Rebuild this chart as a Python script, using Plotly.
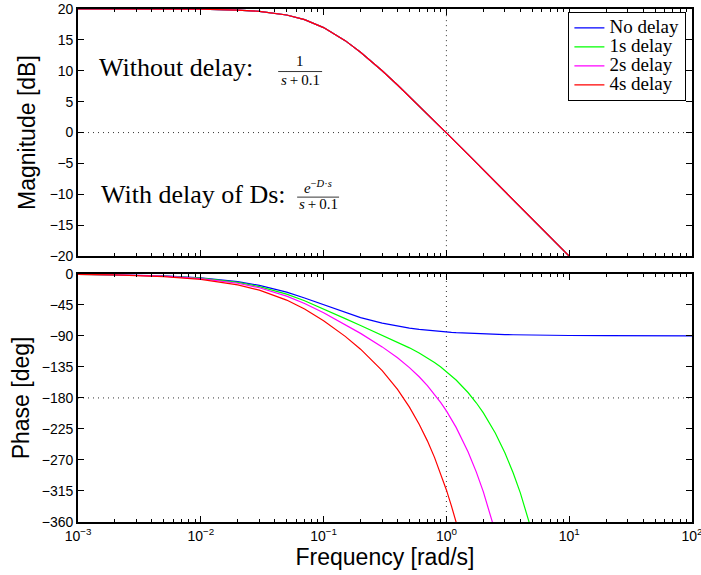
import plotly.graph_objects as go
from plotly.subplots import make_subplots

# ---------------- data ----------------
mag_freq = [0.001, 0.002, 0.005, 0.01, 0.02, 0.03, 0.05, 0.07, 0.1, 0.15, 0.2, 0.3,
            0.4, 0.5, 0.7, 1, 1.5, 2, 3, 4, 5, 7, 10]
mag_db = [20.00, 20.00, 19.99, 19.96, 19.83, 19.63, 19.03, 18.27, 16.99, 14.88, 13.01, 10.00,
          7.70, 5.85, 3.01, -0.04, -3.54, -6.03, -9.55, -12.04, -13.98, -16.90, -20.00]

phase_freq = [0.001, 0.002, 0.005, 0.01, 0.02, 0.03, 0.05, 0.07, 0.1, 0.15, 0.2, 0.3,
              0.4, 0.5, 0.6, 0.7, 0.8, 0.9, 1, 1.1, 1.2, 1.5, 1.75, 2, 2.25, 2.5, 3,
              3.5, 4, 4.5, 5, 7, 10, 20, 50, 100]
phase_nodelay = [-0.57, -1.15, -2.86, -5.71, -11.31, -16.70, -26.57, -34.99, -45.00, -56.31,
                 -63.43, -71.57, -75.96, -78.69, -80.54, -81.87, -82.87, -83.66, -84.29, -84.81,
                 -85.24, -86.19, -86.73, -87.14, -87.46, -87.71, -88.09, -88.36, -88.57, -88.73,
                 -88.85, -89.18, -89.43, -89.71, -89.89, -89.94]
phase_1s = [-0.63, -1.26, -3.15, -6.28, -12.46, -18.42, -29.43, -39.00, -50.73, -64.90,
            -74.89, -88.76, -98.88, -107.34, -114.92, -121.98, -128.71, -135.23, -141.59, -147.84,
            -153.99, -172.13, -187.00, -201.73, -216.38, -230.95, -259.98, -288.90, -317.75, -346.56,
            -375.33, None, None, None, None, None]
phase_2s = [-0.69, -1.38, -3.43, -6.86, -13.60, -20.14, -32.30, -43.01, -56.46, -73.50,
            -86.35, -105.95, -121.80, -135.99, -149.30, -162.09, -174.55, -186.80, -198.88, -210.87,
            -222.74, -258.07, -287.27, -316.32, -345.30, -374.19, None, None, None, None,
            None, None, None, None, None, None]
phase_4s = [-0.80, -1.61, -4.00, -8.00, -15.89, -23.58, -38.03, -51.03, -67.92, -90.67,
            -109.27, -140.33, -167.64, -193.29, -218.06, -242.31, -266.22, -289.95, -313.48, -336.94,
            -360.26, None, None, None, None, None, None, None, None, None,
            None, None, None, None, None, None]

series_names = ["No delay", "1s delay", "2s delay", "4s delay"]
series_colors = ["#0000ff", "#00ff00", "#ff00ff", "#ff0000"]
phase_series = [phase_nodelay, phase_1s, phase_2s, phase_4s]

x_tickvals = [0.001, 0.01, 0.1, 1, 10, 100]
x_ticktext = ["10<sup>−3</sup>", "10<sup>−2</sup>", "10<sup>−1</sup>", "10<sup>0</sup>",
              "10<sup>1</sup>", "10<sup>2</sup>"]
mag_ticks = [-20, -15, -10, -5, 0, 5, 10, 15, 20]
phase_ticks = [0, -45, -90, -135, -180, -225, -270, -315, -360]

# ---------------- figure ----------------
W, H = 701, 575
ML, MR, MT, MB = 77.5, 8.5, 9, 53.3
PW, PH = W - ML - MR, H - MT - MB

def px_x(xp):
    return (xp - ML) / PW

def px_y(yp):
    return (H - MB - yp) / PH

SANS = "Liberation Sans, Arial"
SERIF = "Liberation Serif, Times New Roman"

fig = make_subplots(rows=2, cols=1, shared_xaxes=True)

for name, color in zip(series_names, series_colors):
    fig.add_trace(go.Scatter(x=mag_freq, y=mag_db, mode="lines",
                             name='<span style="font-size:19px">%s</span>' % name,
                             line=dict(color=color, width=1.2)), row=1, col=1)
for name, color, ph in zip(series_names, series_colors, phase_series):
    fig.add_trace(go.Scatter(x=phase_freq, y=ph, mode="lines", name=name, showlegend=False,
                             line=dict(color=color, width=1.2)), row=2, col=1)

minor_vals = [m * 10 ** e for e in range(-3, 2) for m in range(2, 10)]
axis_common = dict(showline=True, linecolor="black", linewidth=1.6, mirror="ticks",
                   ticks="inside", ticklen=6, tickwidth=1, tickcolor="black",
                   showgrid=False, zeroline=False, automargin=False,
                   tickfont=dict(family=SANS, size=14, color="black"))
title_font = dict(family=SANS, size=23, color="black")

fig.update_xaxes(type="log", range=[-3, 2], tickvals=x_tickvals, ticktext=x_ticktext,
                 ticklabeloverflow="allow",
                 minor=dict(tickvals=minor_vals, ticks="inside", ticklen=3, tickcolor="black",
                            showgrid=False),
                 **axis_common)
fig.update_xaxes(showticklabels=False, row=1, col=1)
fig.update_xaxes(title=dict(text="Frequency [rad/s]", standoff=2, font=title_font),
                 row=2, col=1)
fig.update_yaxes(range=[-20, 20], tickvals=mag_ticks,
                 ticktext=[str(v).replace("-", "−") for v in mag_ticks],
                 ticklabeloverflow="allow",
                 title=dict(text="Magnitude [dB]", standoff=8, font=title_font),
                 row=1, col=1, **axis_common)
fig.update_yaxes(range=[-360, 0], tickvals=phase_ticks,
                 ticktext=[str(v).replace("-", "−") for v in phase_ticks],
                 ticklabeloverflow="allow",
                 title=dict(text="Phase [deg]", standoff=6, font=title_font),
                 row=2, col=1, **axis_common)

fig.update_layout(
    width=W, height=H,
    margin=dict(l=ML, r=MR, t=MT, b=MB, autoexpand=False),
    paper_bgcolor="white", plot_bgcolor="white",
    yaxis=dict(domain=[px_y(256), 1.0]),
    yaxis2=dict(domain=[0.0, px_y(273.7)]),
    legend=dict(x=px_x(686.5), y=px_y(12), xanchor="right", yanchor="top",
                bgcolor="white", bordercolor="black", borderwidth=1.4,
                font=dict(family=SERIF, size=12, color="black"),
                tracegroupgap=0, itemwidth=30),
    showlegend=True,
)

# dotted reference lines
dot = dict(color="#333333", width=1, dash="1px,4px")
fig.add_shape(type="line", xref="x", yref="y domain", x0=1, x1=1, y0=0, y1=1, line=dot, layer="below")
fig.add_shape(type="line", xref="x2", yref="y2 domain", x0=1, x1=1, y0=0, y1=1, line=dot, layer="below")
fig.add_shape(type="line", xref="x domain", yref="y", x0=0, x1=1, y0=0, y1=0, line=dot, layer="below")
fig.add_shape(type="line", xref="x2 domain", yref="y2", x0=0, x1=1, y0=-180, y1=-180, line=dot, layer="below")

# text annotations (serif, LaTeX-like)
def ann(text, xp, yp, size, xanchor="center"):
    fig.add_annotation(text=text, xref="paper", yref="paper", x=px_x(xp), y=px_y(yp),
                       xanchor=xanchor, yanchor="middle", showarrow=False,
                       font=dict(family=SERIF, size=size, color="black"))

THIN = "\u2009"
ann("Without delay:", 97, 67, 26, xanchor="left")
ann("1", 300, 61, 15)
ann("<i>s</i>" + THIN + "+" + THIN + "0.1", 300, 80, 15)
fig.add_shape(type="line", xref="paper", yref="paper", x0=px_x(278), x1=px_x(322),
              y0=px_y(71.5), y1=px_y(71.5), line=dict(color="black", width=0.8))

ann("With delay of Ds:", 99, 194, 26, xanchor="left")
ann("<i>e</i><sup>−<i>D</i>·<i>s</i></sup>", 318, 187, 15)
ann("<i>s</i>" + THIN + "+" + THIN + "0.1", 318, 204, 15)
fig.add_shape(type="line", xref="paper", yref="paper", x0=px_x(297), x1=px_x(339),
              y0=px_y(197), y1=px_y(197), line=dict(color="black", width=0.8))

fig.write_html("out.html")
